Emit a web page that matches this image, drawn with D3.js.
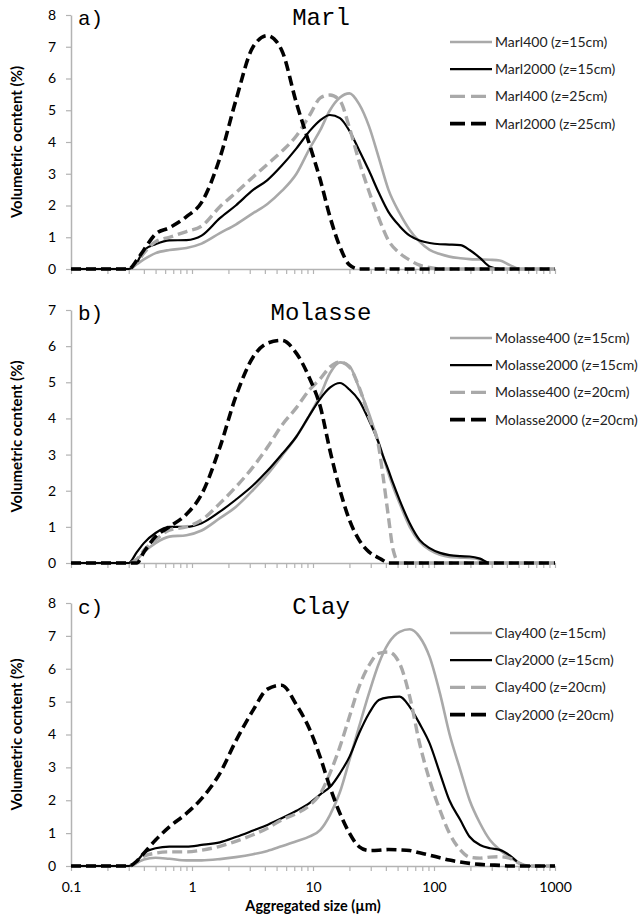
<!DOCTYPE html>
<html>
<head>
<meta charset="utf-8">
<script src="https://cdn.jsdelivr.net/npm/d3@7"></script>
<style>
  body { margin: 0; background: #fff; }
  text { font-family: Lato, "Open Sans", sans-serif; }
</style>
</head>
<body>
<div id="chart"></div>
<script>

// grain sizes (µm), one list per panel
var sizesMarl = [0.1, 0.2, 0.3, 0.35, 0.4, 0.5, 0.65, 0.9, 1.2, 1.7, 2.3, 3.2, 4.2, 5.5, 7.3, 9.4, 11.5, 13.8, 16.7, 20, 24, 29, 35, 42, 52, 63, 76, 92, 112, 134, 165, 197, 240, 290, 350, 420, 510, 600, 1000];
var marl400z15 = [0, 0, 0, 0.15, 0.3, 0.5, 0.6, 0.66, 0.8, 1.13, 1.4, 1.76, 2.05, 2.45, 3.0, 3.8, 4.38, 5.0, 5.4, 5.53, 5.2, 4.5, 3.5, 2.5, 1.76, 1.23, 0.86, 0.6, 0.47, 0.39, 0.34, 0.31, 0.3, 0.29, 0.27, 0.13, 0, 0, 0];
var marl2000z15 = [0, 0, 0, 0.2, 0.6, 0.78, 0.9, 0.91, 1.05, 1.6, 2.0, 2.49, 2.8, 3.25, 3.8, 4.35, 4.69, 4.85, 4.75, 4.35, 3.75, 3.1, 2.4, 1.8, 1.35, 1.05, 0.9, 0.82, 0.78, 0.77, 0.75, 0.6, 0.35, 0.07, 0, 0, 0, 0, 0];
var marl400z25 = [0, 0, 0, 0.2, 0.5, 0.86, 1.0, 1.18, 1.35, 1.96, 2.4, 2.9, 3.3, 3.7, 4.2, 4.85, 5.39, 5.48, 5.3, 4.45, 3.4, 2.45, 1.6, 0.9, 0.5, 0.28, 0.12, 0.05, 0, 0, 0, 0, 0, 0, 0, 0, 0, 0, 0];
var marl2000z25 = [0, 0, 0, 0.28, 0.6, 1.1, 1.3, 1.65, 2.1, 3.5, 5.3, 7.0, 7.35, 6.9, 5.22, 3.9, 2.8, 1.65, 0.7, 0.13, 0, 0, 0, 0, 0, 0, 0, 0, 0, 0, 0, 0, 0, 0, 0, 0, 0, 0, 0];

var sizesMolasse = [0.1, 0.2, 0.3, 0.35, 0.4, 0.5, 0.65, 0.9, 1.2, 1.7, 2.3, 3.2, 4.2, 5.5, 7.3, 9.4, 11.5, 13.8, 16.7, 20, 24, 29, 35, 38, 42, 46, 52, 63, 76, 92, 112, 134, 165, 197, 240, 290, 350, 420, 510, 600, 1000];
var molasse400z15 = [0, 0, 0, 0.1, 0.3, 0.55, 0.73, 0.77, 0.9, 1.24, 1.55, 2.02, 2.45, 2.95, 3.5, 4.1, 4.65, 5.25, 5.55, 5.45, 4.85, 4.14, 3.31, 2.95, 2.48, 2.1, 1.65, 1.0, 0.59, 0.36, 0.23, 0.17, 0.15, 0.14, 0.1, 0, 0, 0, 0, 0, 0];
var molasse2000z15 = [0, 0, 0, 0.3, 0.55, 0.83, 1.0, 1.0, 1.1, 1.42, 1.75, 2.15, 2.55, 3.0, 3.5, 4.1, 4.55, 4.85, 4.98, 4.8, 4.5, 3.95, 3.31, 2.95, 2.57, 2.2, 1.74, 1.1, 0.64, 0.41, 0.28, 0.22, 0.19, 0.18, 0.12, 0, 0, 0, 0, 0, 0];
var molasse400z20 = [0, 0, 0, 0.1, 0.35, 0.64, 0.91, 1.0, 1.19, 1.65, 2.1, 2.66, 3.2, 3.8, 4.3, 4.8, 5.1, 5.42, 5.56, 5.42, 4.87, 4.04, 3.2, 2.38, 1.28, 0.36, 0, 0, 0, 0, 0, 0, 0, 0, 0, 0, 0, 0, 0, 0, 0];
var molasse2000z20 = [0, 0, 0, 0, 0.3, 0.73, 1.0, 1.35, 1.9, 3.2, 4.6, 5.7, 6.08, 6.16, 5.8, 5.1, 4.32, 3.12, 2.02, 1.19, 0.64, 0.31, 0.14, 0.07, 0, 0, 0, 0, 0, 0, 0, 0, 0, 0, 0, 0, 0, 0, 0, 0, 0];

var sizesClay = [0.1, 0.2, 0.3, 0.35, 0.4, 0.5, 0.65, 0.9, 1.2, 1.7, 2.3, 3.2, 4.2, 5.5, 7.3, 9.4, 11.5, 13.8, 16.7, 20, 24, 29, 35, 42, 52, 63, 76, 92, 112, 134, 165, 197, 240, 290, 350, 420, 510, 600, 1000];
var clay400z15 = [0, 0, 0, 0.1, 0.2, 0.25, 0.22, 0.17, 0.17, 0.21, 0.27, 0.36, 0.46, 0.6, 0.75, 0.9, 1.1, 1.55, 2.25, 3.22, 4.23, 5.25, 6.16, 6.77, 7.12, 7.2, 6.97, 6.36, 5.25, 4.03, 2.92, 2.0, 1.3, 0.79, 0.49, 0.28, 0.08, 0, 0];
var clay2000z15 = [0, 0, 0, 0.15, 0.39, 0.54, 0.59, 0.59, 0.64, 0.72, 0.88, 1.08, 1.25, 1.45, 1.68, 1.92, 2.18, 2.4, 2.82, 3.32, 4.03, 4.64, 5.05, 5.13, 5.15, 4.84, 4.33, 3.73, 2.82, 2.0, 1.4, 0.89, 0.64, 0.54, 0.49, 0.33, 0.08, 0, 0];
var clay400z20 = [0, 0, 0, 0.1, 0.3, 0.39, 0.43, 0.43, 0.48, 0.6, 0.75, 0.95, 1.15, 1.4, 1.6, 1.85, 2.2, 2.82, 3.63, 4.54, 5.45, 6.1, 6.47, 6.51, 6.16, 5.15, 3.73, 2.61, 1.7, 1.0, 0.49, 0.27, 0.24, 0.27, 0.28, 0.24, 0.08, 0, 0];
var clay2000z20 = [0, 0, 0, 0.15, 0.39, 0.79, 1.19, 1.6, 2.05, 2.82, 3.8, 4.74, 5.38, 5.5, 4.9, 4.15, 3.3, 2.4, 1.6, 1.0, 0.59, 0.47, 0.48, 0.5, 0.49, 0.47, 0.4, 0.33, 0.25, 0.18, 0.12, 0.08, 0.05, 0.03, 0.02, 0, 0, 0, 0];

var xTickLabels = ["0.1", "1", "10", "100", "1000"];
var panelLetters = ["a)", "b)", "c)"];
var panelNames = ["Marl", "Molasse", "Clay"];
var yMaxes = [8, 7, 8];

var legendMarl = ["Marl400 (z=15cm)", "Marl2000 (z=15cm)", "Marl400 (z=25cm)", "Marl2000 (z=25cm)"];
var legendMolasse = ["Molasse400 (z=15cm)", "Molasse2000 (z=15cm)", "Molasse400 (z=20cm)", "Molasse2000 (z=20cm)"];
var legendClay = ["Clay400 (z=15cm)", "Clay2000 (z=15cm)", "Clay400 (z=20cm)", "Clay2000 (z=20cm)"];

// line styles in legend order
var styles = [
    { color: "#a9a9a9", width: 2.6, dash: null },
    { color: "#000000", width: 2.2, dash: null },
    { color: "#a9a9a9", width: 3.4, dash: "10,5" },
    { color: "#000000", width: 3.6, dash: "10,5" }
];

var svg = d3.select("#chart")
    .append("svg")
    .attr("width", 639)
    .attr("height", 919);

var left = 71, right = 555;

var xScale = d3.scaleLog()
    .domain([0.1, 1000])
    .range([left, right]);

var panels = [
    { top: 15, bottom: 269, sizes: sizesMarl, series: [marl400z15, marl2000z15, marl400z25, marl2000z25], legend: legendMarl, titleY: 25, legendY: 42 },
    { top: 310, bottom: 563, sizes: sizesMolasse, series: [molasse400z15, molasse2000z15, molasse400z20, molasse2000z20], legend: legendMolasse, titleY: 320, legendY: 338 },
    { top: 603, bottom: 866, sizes: sizesClay, series: [clay400z15, clay2000z15, clay400z20, clay2000z20], legend: legendClay, titleY: 614, legendY: 633 }
];

function isDecade(d) {
    var l = Math.log10(d);
    return Math.abs(l - Math.round(l)) < 1e-6;
}

panels.forEach(function(p, i) {

    var yScale = d3.scaleLinear()
        .domain([0, yMaxes[i]])
        .range([p.bottom, p.top]);

    var g = svg.append("g");

    // x axis with log minor ticks
    var xAxis = d3.axisBottom(xScale)
        .tickValues(xScale.ticks())
        .tickSizeInner(5)
        .tickSizeOuter(0)
        .tickPadding(11)
        .tickFormat(function(d) {
            if (i < 2 || !isDecade(d)) return "";
            return xTickLabels[Math.round(Math.log10(d)) + 1];
        });

    var xg = g.append("g")
        .attr("transform", `translate(0, ${p.bottom})`)
        .call(xAxis);

    var yAxis = d3.axisLeft(yScale)
        .ticks(yMaxes[i])
        .tickSizeInner(5)
        .tickSizeOuter(0)
        .tickPadding(10)
        .tickFormat(d3.format("d"));

    var yg = g.append("g")
        .attr("transform", `translate(${left}, 0)`)
        .call(yAxis);

    [xg, yg].forEach(function(a) {
        a.select(".domain").attr("stroke", "#b3b3b3").attr("stroke-width", 1.5);
        a.selectAll(".tick line").attr("stroke", "#b3b3b3").attr("stroke-width", 1.2);
        a.selectAll(".tick text")
            .attr("font-family", "Lato, 'Open Sans', sans-serif")
            .attr("font-size", "14px")
            .attr("fill", "#000");
    });

    // curves
    var line = d3.line()
        .x(function(d) { return xScale(d[0]); })
        .y(function(d) { return yScale(d[1]); })
        .curve(d3.curveMonotoneX);

    p.series.forEach(function(values, k) {
        var pts = p.sizes.map(function(s, j) { return [s, values[j]]; });
        g.append("path")
            .datum(pts)
            .attr("d", line)
            .attr("fill", "none")
            .attr("stroke", styles[k].color)
            .attr("stroke-width", styles[k].width)
            .attr("stroke-dasharray", styles[k].dash);
    });

    // panel letter and title
    g.append("text")
        .attr("x", 78)
        .attr("y", p.titleY)
        .style("font-family", "'Courier New', 'Liberation Mono', monospace")
        .attr("font-size", "21px")
        .text(panelLetters[i]);

    g.append("text")
        .attr("x", 321)
        .attr("y", p.titleY)
        .attr("text-anchor", "middle")
        .style("font-family", "'Courier New', 'Liberation Mono', monospace")
        .attr("font-size", "24px")
        .text(panelNames[i]);

    // y axis title
    g.append("text")
        .attr("transform", `translate(22, ${(p.top + p.bottom) / 2}) rotate(-90)`)
        .attr("text-anchor", "middle")
        .attr("font-size", "15px")
        .attr("font-weight", "bold")
        .text("Volumetric ocntent (%)");

    // legend
    p.legend.forEach(function(label, k) {
        var ly = p.legendY + k * 27.2;
        g.append("line")
            .attr("x1", 450)
            .attr("x2", 492)
            .attr("y1", ly)
            .attr("y2", ly)
            .attr("stroke", styles[k].color)
            .attr("stroke-width", styles[k].width)
            .attr("stroke-dasharray", styles[k].dash ? "15,6" : null);
        g.append("text")
            .attr("x", 495)
            .attr("y", ly)
            .attr("dy", "0.35em")
            .attr("font-size", "14px")
            .attr("fill", "#222")
            .text(label);
    });
});

svg.append("text")
    .attr("x", (left + right) / 2)
    .attr("y", 911)
    .attr("text-anchor", "middle")
    .attr("font-size", "14.5px")
    .attr("font-weight", "bold")
    .text("Aggregated size (µm)");

</script>
</body>
</html>
